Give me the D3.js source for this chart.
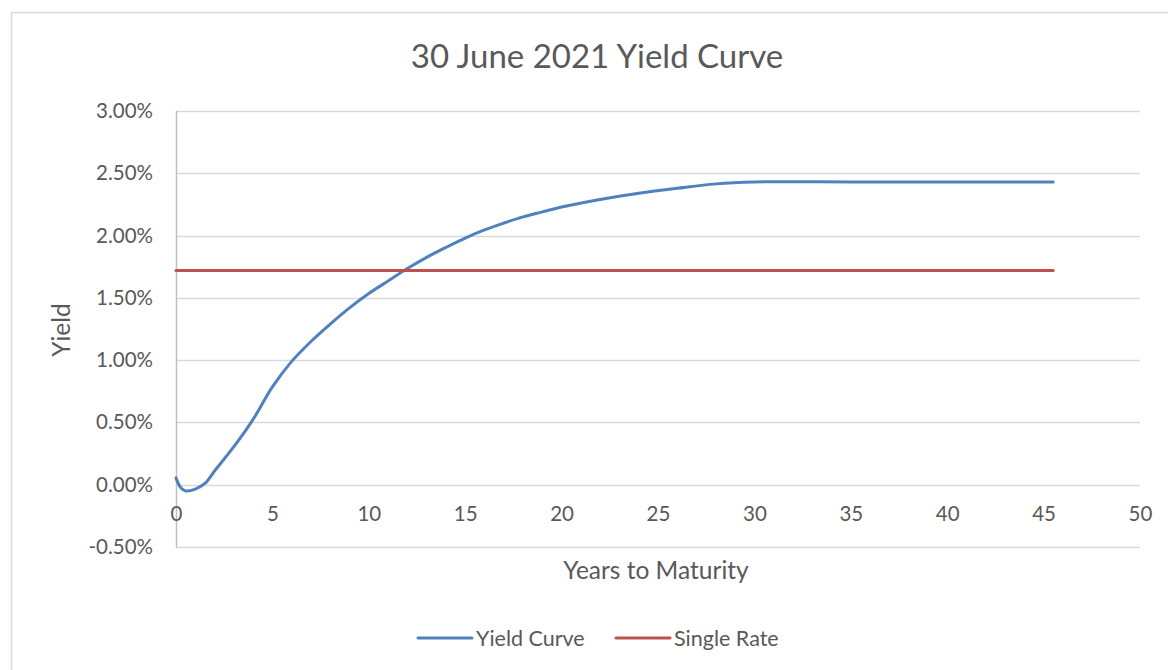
<!DOCTYPE html>
<html>
<head>
<meta charset="utf-8">
<script src="https://cdn.jsdelivr.net/npm/d3@7"></script>
<style>
  html, body { margin: 0; padding: 0; background: #fff; }
  svg { display: block; font-family: Lato, "Open Sans", sans-serif; }
</style>
</head>
<body>
<svg id="chart" width="1168" height="670"></svg>
<script>
// Years to maturity and zero-coupon yield (%) for the 30 June 2021 curve
const maturities = [0, 0.25, 0.5, 1, 1.5, 2, 3, 4, 5, 6, 7, 8, 9, 10, 11, 12, 13, 14, 15,
                    16, 17, 18, 19, 20, 22, 24, 26, 28, 30, 35, 40, 45.5];
const yields     = [0.055, -0.025, -0.05, -0.035, 0.01, 0.11, 0.305, 0.525, 0.785, 0.99, 1.15, 1.29,
                    1.42, 1.535, 1.635, 1.735, 1.825, 1.905, 1.98, 2.045, 2.10, 2.15, 2.19, 2.23,
                    2.29, 2.34, 2.38, 2.415, 2.43, 2.43, 2.43, 2.43];

// Single flat discount rate (%) over the same span
const singleRateSpan = [0, 45.5];
const singleRate = 1.72;

const xTicks = [0, 5, 10, 15, 20, 25, 30, 35, 40, 45, 50];
const yTicks = [-0.5, 0, 0.5, 1.0, 1.5, 2.0, 2.5, 3.0];

const seriesNames = ["Yield Curve", "Single Rate"];
const seriesColors = ["#4f81bd", "#c0504d"];

const svg = d3.select("#chart");
const textColor = "#595959";
const fontFamily = "Lato, 'Open Sans', sans-serif";

// Chart frame
svg.append("path")
  .attr("d", "M11.5,670 L11.5,12.5 L1168,12.5")
  .attr("fill", "none")
  .attr("stroke", "#d9d9d9")
  .attr("stroke-width", 1.5);

const x = d3.scaleLinear().domain([0, 50]).range([176, 1140]);
const y = d3.scaleLinear().domain([-0.5, 3.0]).range([547, 111]);

// Horizontal gridlines
svg.append("g")
  .selectAll("line")
  .data(yTicks)
  .join("line")
  .attr("x1", x(0))
  .attr("x2", x(50))
  .attr("y1", d => Math.round(y(d)) + 0.5)
  .attr("y2", d => Math.round(y(d)) + 0.5)
  .attr("stroke", "#d9d9d9")
  .attr("stroke-width", 1.5);

// Vertical axis line
svg.append("line")
  .attr("x1", x(0) + 0.5).attr("x2", x(0) + 0.5)
  .attr("y1", y(3.0)).attr("y2", y(-0.5))
  .attr("stroke", "#bfbfbf")
  .attr("stroke-width", 1.5);

// Y tick labels (plain hyphen for negatives)
const pct = d => (d < 0 ? "-" : "") + Math.abs(d).toFixed(2) + "%";
const yAxis = d3.axisLeft(y).tickValues(yTicks)
  .tickFormat(pct)
  .tickSize(0).tickPadding(23);
const gy = svg.append("g").attr("transform", `translate(${x(0)},0)`).call(yAxis)
  .attr("font-family", fontFamily).attr("font-size", 20.5);
gy.select(".domain").remove();
gy.selectAll("text").attr("fill", textColor);

// X tick labels, placed just below the zero line
const xAxis = d3.axisBottom(x).tickValues(xTicks).tickSize(0).tickPadding(22);
const gx = svg.append("g").attr("transform", `translate(0,${y(0)})`).call(xAxis)
  .attr("font-family", fontFamily).attr("font-size", 20.5);
gx.select(".domain").remove();
gx.selectAll("text").attr("fill", textColor);

// Series lines (smoothed)
const line = d3.line()
  .x(d => x(d[0]))
  .y(d => y(d[1]))
  .curve(d3.curveCatmullRom.alpha(0.5));

svg.append("path")
  .datum(d3.zip(maturities, yields))
  .attr("d", line)
  .attr("fill", "none")
  .attr("stroke", seriesColors[0])
  .attr("stroke-width", 3)
  .attr("stroke-linecap", "round");

svg.append("path")
  .datum(singleRateSpan.map(m => [m, singleRate]))
  .attr("d", line)
  .attr("fill", "none")
  .attr("stroke", seriesColors[1])
  .attr("stroke-width", 3)
  .attr("stroke-linecap", "round");

// Title
svg.append("text")
  .attr("x", 597).attr("y", 68)
  .attr("text-anchor", "middle")
  .attr("fill", textColor)
  .attr("font-size", 33)
  .text("30 June 2021 Yield Curve");

// Axis titles
svg.append("text")
  .attr("x", 656).attr("y", 579)
  .attr("text-anchor", "middle")
  .attr("fill", textColor)
  .attr("font-size", 24.5)
  .text("Years to Maturity");

svg.append("text")
  .attr("transform", "translate(70,330) rotate(-90)")
  .attr("text-anchor", "middle")
  .attr("fill", textColor)
  .attr("font-size", 24.5)
  .text("Yield");

// Legend
const legendX = [418, 616];
const legend = svg.append("g")
  .selectAll("g")
  .data(seriesNames)
  .join("g")
  .attr("transform", (d, i) => `translate(${legendX[i]},638)`);
legend.append("line")
  .attr("x1", 0).attr("x2", 54)
  .attr("y1", 0).attr("y2", 0)
  .attr("stroke", (d, i) => seriesColors[i])
  .attr("stroke-width", 3)
  .attr("stroke-linecap", "round");
legend.append("text")
  .attr("x", 58).attr("y", 7.5)
  .attr("fill", textColor)
  .attr("font-size", 21.5)
  .text(d => d);
</script>
</body>
</html>
